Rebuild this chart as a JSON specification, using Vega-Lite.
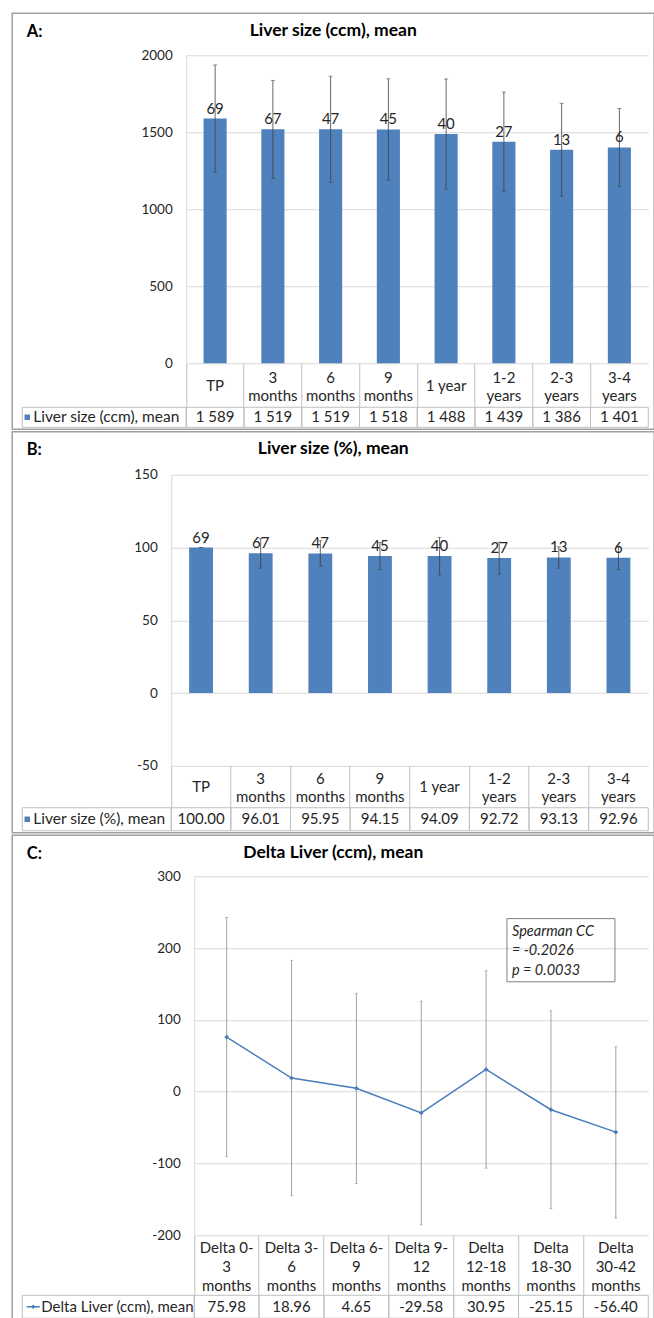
{
  "$schema": "https://vega.github.io/schema/vega-lite/v6.json",
  "background": "white",
  "padding": {"left": 11.25, "top": 12.25, "right": 0, "bottom": 0},
  "spacing": 0.5,
  "config": {
    "font": "Lato",
    "view": {"stroke": null},
    "locale": {"number": {"decimal": ".", "thousands": " ", "grouping": [3], "currency": ["", ""], "minus": "-"}},
    "title": {"font": "Lato", "fontSize": 17.5, "fontWeight": "bold", "color": "#000000", "frame": "bounds", "anchor": "middle", "offset": -26},
    "axis": {"labelFont": "Lato", "labelFontSize": 15, "labelColor": "#262626", "gridColor": "#d9d9d9", "domainColor": "#d9d9d9", "tickColor": "#bfbfbf", "titleFont": "Lato"},
    "axisY": {"ticks": false, "labelPadding": 14, "labelFontSize": 13.5, "grid": true, "format": "d", "titleAngle": 0, "titleAlign": "left", "titleBaseline": "middle", "titleFontSize": 16.5, "titleFontWeight": "bold", "titleColor": "#000000"},
    "text": {"font": "Lato", "fontSize": 15, "color": "#262626"}
  },
  "datasets": {
    "A": [
      {"period": "TP", "mean": 1589, "lower": 1241, "upper": 1937, "n": 69},
      {"period": "3 months", "mean": 1519, "lower": 1201, "upper": 1837, "n": 67},
      {"period": "6 months", "mean": 1519, "lower": 1174, "upper": 1864, "n": 47},
      {"period": "9 months", "mean": 1518, "lower": 1189, "upper": 1847, "n": 45},
      {"period": "1 year", "mean": 1488, "lower": 1130, "upper": 1846, "n": 40},
      {"period": "1-2 years", "mean": 1439, "lower": 1117, "upper": 1761, "n": 27},
      {"period": "2-3 years", "mean": 1386, "lower": 1084, "upper": 1688, "n": 13},
      {"period": "3-4 years", "mean": 1401, "lower": 1148, "upper": 1654, "n": 6}
    ],
    "B": [
      {"period": "TP", "mean": 100, "lower": 100, "upper": 100, "n": 69},
      {"period": "3 months", "mean": 96.01, "lower": 85.8, "upper": 106.2, "n": 67},
      {"period": "6 months", "mean": 95.95, "lower": 87.2, "upper": 104.7, "n": 47},
      {"period": "9 months", "mean": 94.15, "lower": 84.9, "upper": 103.4, "n": 45},
      {"period": "1 year", "mean": 94.09, "lower": 81.2, "upper": 107.0, "n": 40},
      {"period": "1-2 years", "mean": 92.72, "lower": 81.7, "upper": 103.7, "n": 27},
      {"period": "2-3 years", "mean": 93.13, "lower": 85.8, "upper": 100.5, "n": 13},
      {"period": "3-4 years", "mean": 92.96, "lower": 84.9, "upper": 101.0, "n": 6}
    ],
    "C": [
      {"period": "Delta 0-3 months", "mean": 75.98, "lower": -90.7, "upper": 242.7},
      {"period": "Delta 3-6 months", "mean": 18.96, "lower": -145, "upper": 183},
      {"period": "Delta 6-9 months", "mean": 4.65, "lower": -128, "upper": 137},
      {"period": "Delta 9-12 months", "mean": -29.58, "lower": -185.5, "upper": 126},
      {"period": "Delta 12-18 months", "mean": 30.95, "lower": -106.5, "upper": 168.4},
      {"period": "Delta 18-30 months", "mean": -25.15, "lower": -163, "upper": 112.7},
      {"period": "Delta 30-42 months", "mean": -56.4, "lower": -176, "upper": 62.5}
    ]
  },
  "vconcat": [
    {
      "width": 642, "height": 416,
      "view": {"stroke": "#a0a0a0", "strokeWidth": 1.5},
      "title": {"text": "Liver size (ccm), mean"},
      "layer": [
        {
          "data": {"name": "A"},
          "encoding": {
            "x": {"field": "period", "type": "nominal", "sort": null,
              "scale": {"domain": ["TP", "3 months", "6 months", "9 months", "1 year", "1-2 years", "2-3 years", "3-4 years"], "range": [174, 636], "paddingInner": 0, "paddingOuter": 0},
              "axis": {"title": null, "domain": false, "ticks": true, "tickSize": 44, "offset": -66, "bandPosition": 0, "labelAngle": 0, "labelPadding": -22, "labelLineHeight": 18,
                "labelBaseline": {"condition": {"test": "datum.value == 'TP' || datum.value == '1 year'", "value": "middle"}, "value": "bottom"},
                "labelExpr": "datum.value == '1 year' ? datum.value : split(datum.value, ' ')"}}
          },
          "layer": [
            {"mark": {"type": "bar", "width": {"band": 0.4}, "color": "#4f81bd"},
             "encoding": {"y": {"field": "mean", "type": "quantitative", "scale": {"domain": [0, 2000], "range": [350, 42], "nice": false},
               "axis": {"values": [0, 500, 1000, 1500, 2000], "offset": -174, "title": "A:", "titleX": -160, "titleY": 18}}}},
            {"mark": {"type": "rule", "color": "#404040", "strokeWidth": 0.8},
             "encoding": {"y": {"field": "lower", "type": "quantitative"}, "y2": {"field": "upper"}}},
            {"mark": {"type": "tick", "color": "#404040", "thickness": 0.8, "size": 4},
             "encoding": {"y": {"field": "lower", "type": "quantitative"}}},
            {"mark": {"type": "tick", "color": "#404040", "thickness": 0.8, "size": 4},
             "encoding": {"y": {"field": "upper", "type": "quantitative"}}},
            {"mark": {"type": "text", "baseline": "alphabetic", "dy": -5, "fontSize": 15},
             "encoding": {"y": {"field": "mean", "type": "quantitative"}, "text": {"field": "n", "type": "quantitative"}}}
          ]
        },
        {
          "layer": [
            {
              "data": {"name": "A"},
              "encoding": {
                "x": {"field": "period", "type": "nominal", "sort": null, "scale": {"domain": ["TP", "3 months", "6 months", "9 months", "1 year", "1-2 years", "2-3 years", "3-4 years"], "range": [174, 636], "paddingInner": 0, "paddingOuter": 0}, "axis": null},
                "y": {"datum": "Liver size (ccm), mean", "type": "nominal", "scale": {"range": [394, 414], "paddingInner": 0, "paddingOuter": 0}, "axis": null}
              },
              "layer": [
                {"mark": {"type": "rect", "filled": false, "stroke": "#bfbfbf", "strokeWidth": 1}, "encoding": {}},
                {"mark": {"type": "text", "baseline": "middle"}, "encoding": {"text": {"field": "mean", "type": "quantitative", "format": ",d"}}}
              ]
            },
            {
              "data": {"values": [{"series": "Liver size (ccm), mean"}]},
              "mark": {"type": "rect", "filled": false, "stroke": "#bfbfbf", "strokeWidth": 1},
              "encoding": {
                "x": {"field": "series", "type": "nominal", "scale": {"range": [10, 174], "paddingInner": 0, "paddingOuter": 0}, "axis": null},
                "y": {"field": "series", "type": "nominal", "axis": null}
              }
            },
            {
              "data": {"values": [{"series": "Liver size (ccm), mean"}]},
              "encoding": {
                "x": {"field": "series", "type": "nominal", "scale": {"type": "point", "range": [10, 174], "padding": 0, "align": 0}, "axis": null},
                "y": {"field": "series", "type": "nominal", "axis": null}
              },
              "layer": [
                {"mark": {"type": "point", "shape": "square", "filled": true, "size": 30, "color": "#4f81bd", "opacity": 1, "xOffset": 5}, "encoding": {}},
                {"mark": {"type": "text", "align": "left", "baseline": "middle", "dx": 11, "fontSize": 15.5}, "encoding": {"text": {"field": "series"}}}
              ]
            }
          ],
          "resolve": {"scale": {"x": "independent"}}
        }
      ],
      "resolve": {"scale": {"x": "independent", "y": "independent"}}
    },
    {
      "width": 642, "height": 401,
      "view": {"stroke": "#a0a0a0", "strokeWidth": 1.5},
      "title": {"text": "Liver size (%), mean"},
      "layer": [
        {
          "data": {"name": "B"},
          "encoding": {
            "x": {"field": "period", "type": "nominal", "sort": null,
              "scale": {"domain": ["TP", "3 months", "6 months", "9 months", "1 year", "1-2 years", "2-3 years", "3-4 years"], "range": [159, 636], "paddingInner": 0, "paddingOuter": 0},
              "axis": {"title": null, "domain": false, "ticks": true, "tickSize": 42, "offset": -67, "bandPosition": 0, "labelAngle": 0, "labelPadding": -21, "labelLineHeight": 18,
                "labelBaseline": {"condition": {"test": "datum.value == 'TP' || datum.value == '1 year'", "value": "middle"}, "value": "bottom"},
                "labelExpr": "datum.value == '1 year' ? datum.value : split(datum.value, ' ')"}}
          },
          "layer": [
            {"mark": {"type": "bar", "width": {"band": 0.4}, "color": "#4f81bd"},
             "encoding": {"y": {"field": "mean", "type": "quantitative", "scale": {"domain": [-50, 150], "range": [334, 43], "nice": false},
               "axis": {"values": [-50, 0, 50, 100, 150], "offset": -159, "title": "B:", "titleX": -145, "titleY": 18}}}},
            {"mark": {"type": "rule", "color": "#404040", "strokeWidth": 0.8},
             "encoding": {"y": {"field": "lower", "type": "quantitative"}, "y2": {"field": "upper"}}},
            {"mark": {"type": "tick", "color": "#404040", "thickness": 0.8, "size": 4},
             "encoding": {"y": {"field": "lower", "type": "quantitative"}}},
            {"mark": {"type": "tick", "color": "#404040", "thickness": 0.8, "size": 4},
             "encoding": {"y": {"field": "upper", "type": "quantitative"}}},
            {"mark": {"type": "text", "baseline": "alphabetic", "dy": -5, "fontSize": 15},
             "encoding": {"y": {"field": "mean", "type": "quantitative"}, "text": {"field": "n", "type": "quantitative"}}}
          ]
        },
        {
          "layer": [
            {
              "data": {"name": "B"},
              "encoding": {
                "x": {"field": "period", "type": "nominal", "sort": null, "scale": {"domain": ["TP", "3 months", "6 months", "9 months", "1 year", "1-2 years", "2-3 years", "3-4 years"], "range": [159, 636], "paddingInner": 0, "paddingOuter": 0}, "axis": null},
                "y": {"datum": "Liver size (%), mean", "type": "nominal", "scale": {"range": [376, 399], "paddingInner": 0, "paddingOuter": 0}, "axis": null}
              },
              "layer": [
                {"mark": {"type": "rect", "filled": false, "stroke": "#bfbfbf", "strokeWidth": 1}, "encoding": {}},
                {"mark": {"type": "text", "baseline": "middle"}, "encoding": {"text": {"field": "mean", "type": "quantitative", "format": ".2f"}}}
              ]
            },
            {
              "data": {"values": [{"series": "Liver size (%), mean"}]},
              "mark": {"type": "rect", "filled": false, "stroke": "#bfbfbf", "strokeWidth": 1},
              "encoding": {
                "x": {"field": "series", "type": "nominal", "scale": {"range": [10, 159], "paddingInner": 0, "paddingOuter": 0}, "axis": null},
                "y": {"field": "series", "type": "nominal", "axis": null}
              }
            },
            {
              "data": {"values": [{"series": "Liver size (%), mean"}]},
              "encoding": {
                "x": {"field": "series", "type": "nominal", "scale": {"type": "point", "range": [10, 159], "padding": 0, "align": 0}, "axis": null},
                "y": {"field": "series", "type": "nominal", "axis": null}
              },
              "layer": [
                {"mark": {"type": "point", "shape": "square", "filled": true, "size": 30, "color": "#4f81bd", "opacity": 1, "xOffset": 5}, "encoding": {}},
                {"mark": {"type": "text", "align": "left", "baseline": "middle", "dx": 11, "fontSize": 15.5}, "encoding": {"text": {"field": "series"}}}
              ]
            }
          ],
          "resolve": {"scale": {"x": "independent"}}
        }
      ],
      "resolve": {"scale": {"x": "independent", "y": "independent"}}
    },
    {
      "width": 642, "height": 484,
      "view": {"stroke": "#a0a0a0", "strokeWidth": 1.5},
      "title": {"text": "Delta Liver (ccm), mean"},
      "layer": [
        {
          "data": {"name": "C"},
          "encoding": {
            "x": {"field": "period", "type": "nominal", "sort": null,
              "scale": {"domain": ["Delta 0-3 months", "Delta 3-6 months", "Delta 6-9 months", "Delta 9-12 months", "Delta 12-18 months", "Delta 18-30 months", "Delta 30-42 months"], "range": [182, 636], "paddingInner": 0, "paddingOuter": 0},
              "axis": {"title": null, "domain": false, "ticks": true, "tickSize": 60, "offset": -84, "bandPosition": 0, "labelAngle": 0, "labelPadding": -48, "labelLineHeight": 19, "labelBaseline": "middle",
                "labelExpr": "datum.value == 'Delta 0-3 months' ? ['Delta 0-', '3', 'months'] : datum.value == 'Delta 3-6 months' ? ['Delta 3-', '6', 'months'] : datum.value == 'Delta 6-9 months' ? ['Delta 6-', '9', 'months'] : datum.value == 'Delta 9-12 months' ? ['Delta 9-', '12', 'months'] : split(datum.value, ' ')"}}
          },
          "layer": [
            {"mark": {"type": "rule", "color": "#8c8c8c", "strokeWidth": 0.8},
             "encoding": {"y": {"field": "lower", "type": "quantitative", "scale": {"domain": [-200, 300], "range": [400, 41], "nice": false},
               "axis": {"values": [-200, -100, 0, 100, 200, 300], "offset": -182, "title": "C:", "titleX": -168, "titleY": 18}},
               "y2": {"field": "upper"}}},
            {"mark": {"type": "tick", "color": "#8c8c8c", "thickness": 0.8, "size": 3},
             "encoding": {"y": {"field": "lower", "type": "quantitative"}}},
            {"mark": {"type": "tick", "color": "#8c8c8c", "thickness": 0.8, "size": 3},
             "encoding": {"y": {"field": "upper", "type": "quantitative"}}},
            {"mark": {"type": "line", "color": "#4a7ebb", "strokeWidth": 1.5},
             "encoding": {"y": {"field": "mean", "type": "quantitative"}}},
            {"mark": {"type": "point", "shape": "diamond", "filled": true, "size": 22, "color": "#4a7ebb", "opacity": 1},
             "encoding": {"y": {"field": "mean", "type": "quantitative"}}},
            {"data": {"values": [{}]},
             "mark": {"type": "rect", "filled": false, "stroke": "#7f7f7f", "strokeWidth": 1, "width": 108, "xOffset": 10},
             "encoding": {"x": {"datum": "Delta 18-30 months", "type": "nominal"}, "y": {"datum": 241, "type": "quantitative"}, "y2": {"datum": 153}}},
            {"data": {"values": [{}]},
             "mark": {"type": "text", "align": "left", "baseline": "top", "dx": -39, "fontStyle": "italic", "fontSize": 14.5, "lineHeight": 19.3},
             "encoding": {"x": {"datum": "Delta 18-30 months", "type": "nominal"}, "y": {"datum": 232, "type": "quantitative"}, "text": {"value": ["Spearman CC", "= -0.2026", "p = 0.0033"]}}}
          ]
        },
        {
          "layer": [
            {
              "data": {"name": "C"},
              "encoding": {
                "x": {"field": "period", "type": "nominal", "sort": null, "scale": {"domain": ["Delta 0-3 months", "Delta 3-6 months", "Delta 6-9 months", "Delta 9-12 months", "Delta 12-18 months", "Delta 18-30 months", "Delta 30-42 months"], "range": [182, 636], "paddingInner": 0, "paddingOuter": 0}, "axis": null},
                "y": {"datum": "Delta Liver (ccm), mean", "type": "nominal", "scale": {"range": [460, 483], "paddingInner": 0, "paddingOuter": 0}, "axis": null}
              },
              "layer": [
                {"mark": {"type": "rect", "filled": false, "stroke": "#bfbfbf", "strokeWidth": 1}, "encoding": {}},
                {"mark": {"type": "text", "baseline": "middle"}, "encoding": {"text": {"field": "mean", "type": "quantitative", "format": ".2f"}}}
              ]
            },
            {
              "data": {"values": [{"series": "Delta Liver (ccm), mean"}]},
              "mark": {"type": "rect", "filled": false, "stroke": "#bfbfbf", "strokeWidth": 1},
              "encoding": {
                "x": {"field": "series", "type": "nominal", "scale": {"range": [10, 182], "paddingInner": 0, "paddingOuter": 0}, "axis": null},
                "y": {"field": "series", "type": "nominal", "axis": null}
              }
            },
            {
              "data": {"values": [{"series": "Delta Liver (ccm), mean"}]},
              "encoding": {
                "x": {"field": "series", "type": "nominal", "scale": {"type": "point", "range": [10, 182], "padding": 0, "align": 0}, "axis": null},
                "y": {"field": "series", "type": "nominal", "axis": null}
              },
              "layer": [
                {"mark": {"type": "point", "shape": "stroke", "filled": false, "size": 170, "strokeWidth": 1.5, "color": "#4a7ebb", "opacity": 1, "xOffset": 11}, "encoding": {}},
                {"mark": {"type": "point", "shape": "diamond", "filled": true, "size": 20, "color": "#4a7ebb", "opacity": 1, "xOffset": 11}, "encoding": {}},
                {"mark": {"type": "text", "align": "left", "baseline": "middle", "dx": 19, "fontSize": 15}, "encoding": {"text": {"field": "series"}}}
              ]
            }
          ],
          "resolve": {"scale": {"x": "independent"}}
        }
      ],
      "resolve": {"scale": {"x": "independent", "y": "independent"}}
    }
  ]
}
